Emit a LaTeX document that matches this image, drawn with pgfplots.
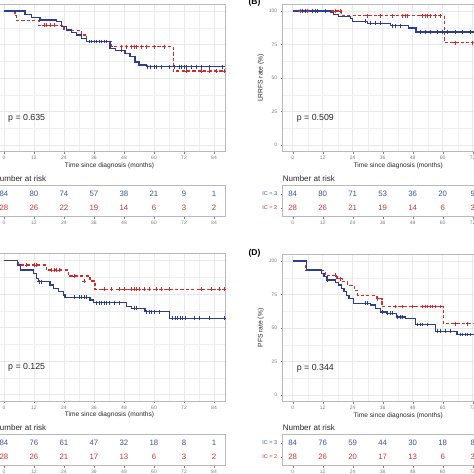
\documentclass[border=0pt]{standalone}
\usepackage{fontspec}
\setmainfont{Liberation Sans}
\usepackage{pgfplots}
\pgfplotsset{compat=1.18}
\definecolor{kmblue}{RGB}{44,62,140}
\definecolor{kmred}{RGB}{205,45,45}
\definecolor{nblue}{RGB}{60,85,160}
\definecolor{nred}{RGB}{200,55,50}
\definecolor{tickgray}{RGB}{125,125,125}
\definecolor{gridgray}{RGB}{232,232,232}
\definecolor{framegray}{RGB}{185,185,185}
\definecolor{txt}{RGB}{40,40,40}
\pgfplotsset{
  common/.style={scale only axis, width=231pt, xmin=-4, xmax=88.4,
    xtick={0,12,...,84}, tick align=outside, xtick pos=bottom, ytick pos=left,
    major tick length=2pt, minor tick length=0pt,
    axis line style={framegray, line width=0.8pt},
    tick style={tickgray, line width=0.4pt},
    tick label style={font=\fontsize{5}{6}\selectfont, text=tickgray},
    /pgf/number format/assume math mode=true},
  kmaxis/.style={common, height=147.4pt, ymin=-5, ymax=105, clip=true,
    ytick={0,25,50,75,100}, minor x tick num=1, minor y tick num=1,
    grid=both, major grid style={gridgray, line width=0.5pt},
    minor grid style={gridgray!70, line width=0.3pt},
    xlabel={Time since diagnosis (months)},
    xlabel style={font=\fontsize{6.6}{7}\selectfont, text=txt, yshift=4pt},
    ylabel style={font=\fontsize{6.7}{7}\selectfont, text=txt, yshift=-2pt},
    xticklabel style={yshift=1pt}},
  riskaxis/.style={common, height=31pt, ymin=0.38, ymax=2.59, clip=false,
    ytick={1,2}, yticklabels={\textcolor{nred}{IC = 2},\textcolor{nblue}{IC = 3}},
    yticklabel style={font=\fontsize{5.5}{6}\selectfont},
    xticklabel style={yshift=1pt}},
  blueline/.style={kmblue, line width=1.3pt, const plot, mark=none},
  redline/.style={kmred, line width=1.3pt, const plot, mark=none, dash pattern=on 3.2pt off 2.2pt},
  bluecens/.style={kmblue, only marks, mark=+, mark size=1.9pt, line width=0.7pt},
  redcens/.style={kmred, only marks, mark=+, mark size=1.9pt, line width=0.7pt},
  bnum/.style={draw=none, mark=none, nodes near coords, point meta=explicit symbolic,
    nodes near coords style={font=\fontsize{7.8}{8}\selectfont, text=nblue, anchor=center, inner sep=0pt}},
  rnum/.style={draw=none, mark=none, nodes near coords, point meta=explicit symbolic,
    nodes near coords style={font=\fontsize{7.8}{8}\selectfont, text=nred, anchor=center, inner sep=0pt}},
}
\newcommand{\pval}[1]{\node[anchor=west, font=\fontsize{8.8}{9}\selectfont, text=txt, inner sep=0pt] at (axis cs:1.6,20) {#1};}
\newcommand{\nrisk}{\node[anchor=base west, font=\fontsize{8}{9}\selectfont, text=txt, inner sep=0pt, yshift=4.5pt] at (rel axis cs:0,1) {Number at risk};}
\begin{document}
\begin{tikzpicture}
\path[use as bounding box, clip] (0pt,0pt) rectangle (474pt,474pt);
\fill[white] (0pt,0pt) rectangle (474pt,474pt);

% ---------------- Panel A ----------------
\begin{axis}[kmaxis, at={(-6pt,469.7pt)}, anchor=north west, ylabel={OS rate (\%)}]
\addplot[redline] coordinates {(0,100)(4.4,96.4)(5,92.9)(14,89.3)(24,85.7)(31,82.1)(33,77.3)(43,73.4)(67.7,55.2)(88.4,55.2)};
\addplot[blueline] coordinates {(0,100)(8.4,97.6)(11,95.2)(14.4,93.3)(21,92)(23,88.5)(25,85.8)(27,84)(29,82)(31,79.5)(33,77.3)(42.4,72)(44.5,70.5)(48.4,68.5)(50.4,65.9)(52.4,62)(54,59.7)(57.1,58.4)(88.4,58.4)};
\addplot[redcens] coordinates {(16,89.3)(17,89.3)(18.5,89.3)(20,89.3)(47,73.4)(49,73.4)(51,73.4)(52,73.4)(53,73.4)(55,73.4)(57,73.4)(60,73.4)(64,73.4)(73,55.2)(79,55.2)(82,55.2)(85,55.2)(88,55.2)};
\addplot[bluecens] coordinates {(34,77.3)(35,77.3)(36,77.3)(37,77.3)(38,77.3)(39,77.3)(40,77.3)(41,77.3)(47,70.5)(57.5,58.4)(58.5,58.4)(60,58.4)(61,58.4)(63,58.4)(66,58.4)(68,58.4)(70,58.4)(71,58.4)(72,58.4)(73,58.4)(75,58.4)(77,58.4)(79,58.4)(82,58.4)(87.5,58.4)};
\pval{p = 0.635}
\end{axis}
\begin{axis}[riskaxis, at={(-6pt,288.3pt)}, anchor=north west]
\addplot[bnum] coordinates {(0,2)[84](12,2)[80](24,2)[74](36,2)[57](48,2)[38](60,2)[21](72,2)[9](84,2)[1]};
\addplot[rnum] coordinates {(0,1)[28](12,1)[26](24,1)[22](36,1)[19](48,1)[14](60,1)[6](72,1)[3](84,1)[2]};
\nrisk
\end{axis}

% ---------------- Panel B ----------------
\begin{axis}[kmaxis, at={(282.7pt,469.7pt)}, anchor=north west, ylabel={LRRFS rate (\%)}]
\addplot[redline] coordinates {(0,100)(19.5,96.4)(60.7,76.4)(88.4,76.4)};
\addplot[blueline] coordinates {(0,100)(15,99)(16.3,97.5)(18.3,95.8)(23,94.5)(24,92.3)(30,90.8)(39,89)(46.3,87.3)(49.3,84.3)(88.4,84.3)};
\addplot[redcens] coordinates {(3,100)(4,100)(6,100)(17,100)(19,100)(30,96.4)(35,96.4)(40,96.4)(44,96.4)(45,96.4)(46,96.4)(52,96.4)(53,96.4)(54,96.4)(55,96.4)(57,96.4)(59,96.4)(65,76.4)(72,76.4)(80,76.4)};
\addplot[bluecens] coordinates {(4,100)(5,100)(8,100)(9,100)(10,100)(13,100)(29,92.3)(31,90.8)(33,90.8)(35,90.8)(40,89)(41,89)(43,89)(51,84.3)(53,84.3)(55,84.3)(58,84.3)(60,84.3)(62,84.3)(65,84.3)(68,84.3)(71,84.3)(74,84.3)(78,84.3)(82,84.3)};
\pval{p = 0.509}
\end{axis}
\node[font=\bfseries\fontsize{8.5}{9}\selectfont, text=black] at (254.5pt,472pt) {(B)};
\begin{axis}[riskaxis, at={(282.7pt,288.3pt)}, anchor=north west]
\addplot[bnum] coordinates {(0,2)[84](12,2)[80](24,2)[71](36,2)[53](48,2)[36](60,2)[20](72,2)[9](84,2)[1]};
\addplot[rnum] coordinates {(0,1)[28](12,1)[26](24,1)[21](36,1)[19](48,1)[14](60,1)[6](72,1)[3](84,1)[2]};
\nrisk
\end{axis}

% ---------------- Panel C ----------------
\begin{axis}[kmaxis, at={(-6pt,220.2pt)}, anchor=north west, ylabel={DMFS rate (\%)}]
\addplot[redline] coordinates {(0,100)(5.7,96.6)(17,92.9)(25.7,88.4)(34.4,84.7)(36.4,78.5)(88.4,78.5)};
\addplot[blueline] coordinates {(0,100)(5.3,96.6)(6.7,92.9)(11.7,90.4)(13,86.7)(13.7,84.2)(18.4,81.7)(19.7,79.2)(21.7,76.7)(23.7,74.3)(24.4,72.5)(34.4,70.5)(35.7,68.5)(49,65.5)(51,64.3)(56.4,61.8)(66.1,56.9)(88.4,56.9)};
\addplot[redcens] coordinates {(9,96.6)(12,96.6)(13,96.6)(19,92.9)(20,92.9)(21,92.9)(22,92.9)(28,88.4)(32,84.7)(40,78.5)(43,78.5)(46,78.5)(48,78.5)(51,78.5)(52,78.5)(53,78.5)(54,78.5)(56,78.5)(58,78.5)(61,78.5)(63,78.5)(66,78.5)(79,78.5)(83,78.5)(86,78.5)(88,78.5)};
\addplot[bluecens] coordinates {(14,84.2)(15,84.2)(28,72.5)(30,72.5)(31,72.5)(32,72.5)(33,72.5)(37,68.5)(38,68.5)(39,68.5)(40,68.5)(41,68.5)(42,68.5)(44,68.5)(46,68.5)(52,64.3)(53,64.3)(57,61.8)(58,61.8)(59,61.8)(60,61.8)(62,61.8)(67.5,56.9)(68.5,56.9)(69.5,56.9)(70.5,56.9)(71.5,56.9)(72.5,56.9)(76,56.9)(78,56.9)(82,56.9)(88,56.9)};
\pval{p = 0.125}
\end{axis}
\begin{axis}[riskaxis, at={(-6pt,39.3pt)}, anchor=north west]
\addplot[bnum] coordinates {(0,2)[84](12,2)[76](24,2)[61](36,2)[47](48,2)[32](60,2)[18](72,2)[8](84,2)[1]};
\addplot[rnum] coordinates {(0,1)[28](12,1)[26](24,1)[21](36,1)[17](48,1)[13](60,1)[6](72,1)[3](84,1)[2]};
\nrisk
\end{axis}

% ---------------- Panel D ----------------
\begin{axis}[kmaxis, at={(282.7pt,219.7pt)}, anchor=north west, ylabel={PFS rate (\%)}]
\addplot[redline] coordinates {(0,100)(5,92.9)(13,89.3)(17.7,86.8)(20,84.5)(22,81.8)(24.7,78)(26,74.3)(33.7,71.8)(35.7,66.1)(60.4,53.1)(88.4,53.1)};
\addplot[blueline] coordinates {(0,100)(5.6,93.3)(11.6,90.8)(12.5,88.5)(13.7,85.8)(17,84)(18.3,82)(19.6,79.5)(20.5,77)(21.6,74.5)(22.5,72)(24.3,68.4)(31,67.1)(33,64.6)(35,62)(37.6,60.9)(41.6,58.3)(45,57.1)(49,52.6)(57,47.6)(65.7,45.2)(88.4,45.2)};
\addplot[redcens] coordinates {(17,89.3)(19,86.8)(34,71.8)(41,66.1)(44,66.1)(48,66.1)(52,66.1)(53,66.1)(54,66.1)(55,66.1)(56,66.1)(57,66.1)(59,66.1)(65,53.1)(70,53.1)};
\addplot[bluecens] coordinates {(14,85.8)(29,68.4)(30,68.4)(36,62)(38,60.9)(39,60.9)(40,60.9)(42,58.3)(43,58.3)(44,58.3)(50,52.6)(51,52.6)(52,52.6)(54,52.6)(58,47.6)(59,47.6)(61,47.6)(63,47.6)(67,45.2)(68,45.2)(69,45.2)(70,45.2)(71,45.2)(73,45.2)(76,45.2)(80,45.2)};
\pval{p = 0.344}
\end{axis}
\node[font=\bfseries\fontsize{8.5}{9}\selectfont, text=black] at (254.5pt,221pt) {(D)};
\begin{axis}[riskaxis, at={(282.7pt,39.3pt)}, anchor=north west]
\addplot[bnum] coordinates {(0,2)[84](12,2)[76](24,2)[59](36,2)[44](48,2)[30](60,2)[18](72,2)[8](84,2)[1]};
\addplot[rnum] coordinates {(0,1)[28](12,1)[26](24,1)[20](36,1)[17](48,1)[13](60,1)[6](72,1)[3](84,1)[2]};
\nrisk
\end{axis}
\end{tikzpicture}
\end{document}
